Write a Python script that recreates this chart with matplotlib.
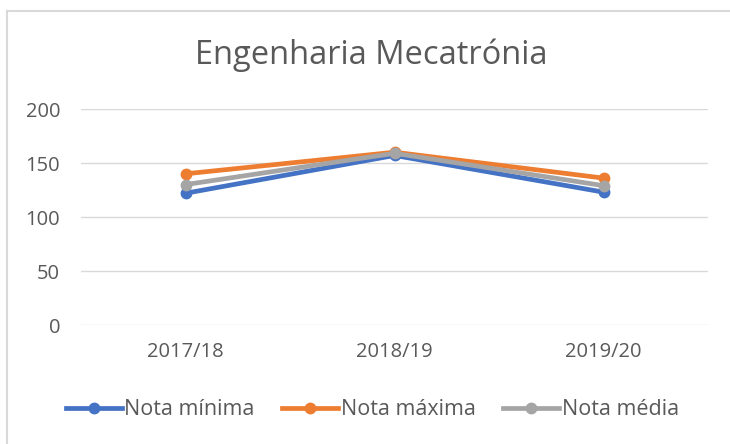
import matplotlib.pyplot as plt
from matplotlib.lines import Line2D

plt.rcParams['font.family'] = ['Open Sans', 'DejaVu Sans']

years = ["2017/18", "2018/19", "2019/20"]
nota_minima = [122, 157, 123]
nota_maxima = [140, 160, 136]
nota_media = [130, 159, 129]
yticks = [0, 50, 100, 150, 200]

text_color = "#595959"
grid_color = "#d9d9d9"

fig = plt.figure(figsize=(7.3, 4.44), dpi=100)
ax = fig.add_axes([0.111, 0.268, 0.859, 0.4865])

x = range(len(years))
series = [
    (nota_minima, "#4472c4", "Nota mínima"),
    (nota_maxima, "#ed7d31", "Nota máxima"),
    (nota_media, "#a5a5a5", "Nota média"),
]
for vals, color, label in series:
    ax.plot(x, vals, color=color, linewidth=3.4, marker="o", markersize=7.5,
            solid_capstyle="round", label=label)

ax.set_xlim(-0.5, len(years) - 0.5)
ax.set_ylim(0, 200)
ax.set_yticks(yticks)
ax.set_xticks(list(x))
ax.set_xticklabels(years)
ax.grid(axis="y", color=grid_color, linewidth=1)
ax.set_axisbelow(True)
for s in ax.spines.values():
    s.set_visible(False)
ax.tick_params(length=0, labelsize=14.5, colors=text_color)
ax.tick_params(axis="x", pad=12)
ax.tick_params(axis="y", pad=15)

fig.text(0.509, 0.876, "Engenharia Mecatrónia", ha="center", va="center",
         fontsize=23.5, color=text_color)

handles = [Line2D([], [], color=c, linewidth=3.4, marker="o", markersize=7.5)
           for _, c, _ in series]
fig.legend(handles, [l for _, _, l in series], loc="center",
           bbox_to_anchor=(0.51, 0.077), ncol=3, frameon=False,
           fontsize=15.5, labelcolor=text_color, handlelength=2.6,
           handletextpad=0.1, columnspacing=1.3)

# chart border (left and top edges visible)
fig.add_artist(Line2D([0.009, 0.009], [0, 0.976], color=grid_color, linewidth=1.5))
fig.add_artist(Line2D([0.009, 1.0], [0.976, 0.976], color=grid_color, linewidth=1.5))

fig.savefig("out.png", dpi=100)
